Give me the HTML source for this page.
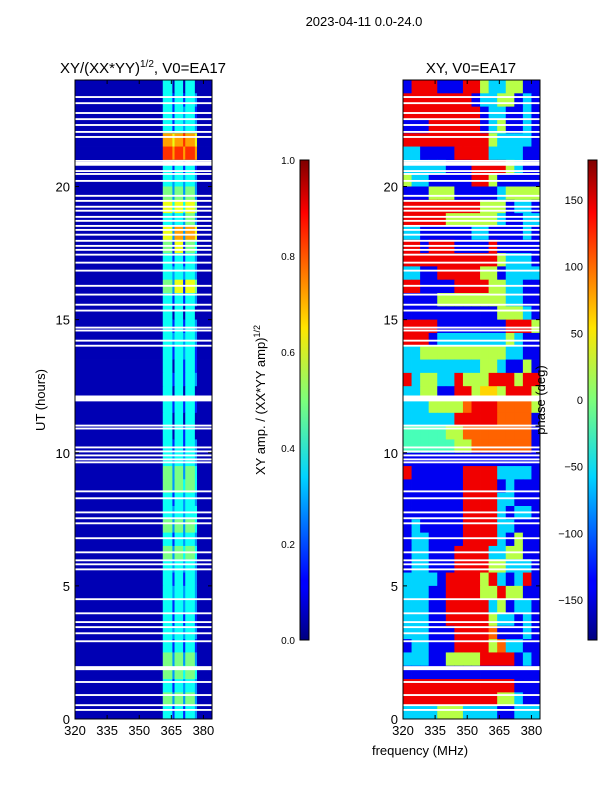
<!DOCTYPE html>
<html><head><meta charset="utf-8">
<style>
body{margin:0;background:#fff;}
svg{display:block;font-family:"Liberation Sans",sans-serif;}
</style></head>
<body>
<svg id="fig" width="600" height="800" viewBox="0 0 600 800">
<defs>
<linearGradient id="jet" x1="0" y1="1" x2="0" y2="0">
<stop offset="0" stop-color="#00007f"/><stop offset="0.11" stop-color="#0000ff"/>
<stop offset="0.125" stop-color="#0000ff"/><stop offset="0.34" stop-color="#00d4ff"/>
<stop offset="0.5" stop-color="#7dff7a"/><stop offset="0.65" stop-color="#ffe500"/>
<stop offset="0.89" stop-color="#ff0000"/><stop offset="1" stop-color="#7f0000"/>
</linearGradient>
</defs>
<text x="364" y="26" font-size="13" text-anchor="middle">2023-04-11 0.0-24.0</text>
<text x="143" y="73" font-size="15" text-anchor="middle">XY/(XX*YY)<tspan font-size="10" dy="-6">1/2</tspan><tspan dy="6">, V0=EA17</tspan></text>
<text x="471" y="73" font-size="15" text-anchor="middle">XY, V0=EA17</text>
<g id="ampPanel"></g>
<g id="phPanel"></g>
<g id="axes"></g>
<rect x="300" y="160" width="9" height="480" fill="url(#jet)" stroke="#000" stroke-width="1"/>
<rect x="588" y="160" width="9" height="480" fill="url(#jet)" stroke="#000" stroke-width="1"/>
<text transform="translate(45,400) rotate(-90)" font-size="13" text-anchor="middle">UT (hours)</text>
<text transform="translate(265,400) rotate(-90)" font-size="13" text-anchor="middle">XY amp. / (XX*YY amp)<tspan font-size="9" dy="-5">1/2</tspan></text>
<text transform="translate(545,400) rotate(-90)" font-size="13" text-anchor="middle">phase (deg)</text>
<text x="420" y="755" font-size="13" text-anchor="middle">frequency (MHz)</text>
</svg>
<script>
const ampEdges=[320,361,365.5,366.5,370.5,371.5,376,377,380.5,384];
const ampRows=["141414111","142424311","142434211","142434311","176787611","187878711","142424211","143434311","153535311","164646511","143435311","163737611","152625411","142424311","143434311","153626511","142424311","141414111","142424311","143434311","142434211","141424211","142424311","141414111","142424211","141414111","141424111","142424311","143434311","153535411","153545411","142434311","143434411","153535411","142434311","153545411","143434311","142424311","143434311","142434311","142424211","143434311","142424211","153535311","153545411","142434311","153535311","142424311"];
const phRows=["1888111885335511","8888888813355131","8888888881331131","1118888881351131","8888888888533331","3311118888333311","3333311188885311","5331111188511111","1115551111135555","8888888885551331","8888855555531133","3311111133111131","8818881111811111","8888888888853331","3311888885513333","8811118888553311","1111555555553311","1111111111155531","8888111111118885","8881333333335311","3355555555553311","3333333335531151","8355338555888588","3355118856658885","3335555788877775","3333338888877771","4444455777777771","4444445577777771","1111111111111111","8111111888833331","1111111888813111","1111111888833111","1111111888831331","1311111888833111","1331111888831511","1331118888335511","1331118888553331","3333188885831381","3331188885585511","3331188888351331","3331188888533131","3331118888711131","1331118888573311","3331155558888131","1111111111111111","8888888888888111","8888888888855311","3333555333311333"];
const flagT=[23.36,23.13,22.76,22.53,22.31,22.05,21.86,20.96,20.85,20.58,20.47,20.21,19.65,19.46,19.24,19.09,18.86,18.71,18.52,18.37,18.19,17.96,17.77,17.62,17.44,17.14,16.84,16.27,15.94,15.56,15.34,14.7,14.59,14.21,14.02,12.04,11.02,10.91,10.2,10.05,9.9,9.75,9.64,8.55,8.29,7.76,7.54,7.35,6.79,6.26,5.96,5.81,5.62,4.5,3.97,3.64,3.45,3.22,2.92,1.91,1.39,0.9,0.52,0.34];
const flagW=[.07,.07,.07,.07,.07,.07,.07,.07,.14,.07,.07,.07,.07,.07,.07,.07,.07,.07,.07,.07,.07,.07,.07,.07,.07,.07,.07,.07,.07,.07,.07,.07,.07,.07,.07,.22,.07,.07,.07,.07,.07,.07,.07,.07,.07,.07,.07,.07,.07,.07,.07,.07,.07,.07,.07,.07,.07,.07,.07,.15,.07,.07,.07,.07];
const xTicks=[320,335,350,365,380];
const yTicks=[0,5,10,15,20];
const ampCbTicks=["0.0","0.2","0.4","0.6","0.8","1.0"];
const phCbTicks=[-150,-100,-50,0,50,100,150];

const NS="http://www.w3.org/2000/svg";
function mk(tag,at,parent){const e=document.createElementNS(NS,tag);for(const k in at)e.setAttribute(k,at[k]);parent.appendChild(e);return e;}
function jet(v){const c=x=>Math.round(255*Math.max(0,Math.min(1,x)));return `rgb(${c(1.5-Math.abs(4*v-3))},${c(1.5-Math.abs(4*v-2))},${c(1.5-Math.abs(4*v-1))})`;}
const T=80,B=719,F0=320,F1=384;
const yS=h=>B-(h/24)*(B-T);
function panel(gid,L,R,edges,rows,off){
  const g=document.getElementById(gid);
  const xS=f=>L+(f-F0)/(F1-F0)*(R-L);
  const n=rows.length;
  rows.forEach((row,i)=>{
    const h1=24-i*24/n,h0=24-(i+1)*24/n;
    for(let j=0;j<row.length;j++){
      const v=(+row[j])/9-off;
      const r=mk('rect',{x:xS(edges[j]),y:yS(h1),width:xS(edges[j+1])-xS(edges[j])+0.4,height:yS(h0)-yS(h1)+0.4,fill:jet(v)},g);
      
      
    }
  });
  flagT.forEach((t,k)=>{
    const r=mk('rect',{x:L,y:yS(t+flagW[k]/2),width:R-L,height:Math.max(1.5,yS(t-flagW[k]/2)-yS(t+flagW[k]/2)),fill:'#fff'},g);
    
    
  });
  const ax=document.getElementById('axes');
  const fr=mk('rect',{x:L,y:T,width:R-L,height:B-T,fill:'none',stroke:'#000','stroke-width':1},ax);
  
  
  xTicks.forEach(f=>{
    const x=xS(f);
    mk('line',{x1:x,y1:B,x2:x,y2:B-4,stroke:'#000'},ax);
    mk('line',{x1:x,y1:T,x2:x,y2:T+4,stroke:'#000'},ax);
    const t=mk('text',{x:x,y:B+16,'font-size':13,'text-anchor':'middle'},ax);t.textContent=f;
    
    
  });
  yTicks.forEach(h=>{
    const y=yS(h);
    mk('line',{x1:L,y1:y,x2:L+4,y2:y,stroke:'#000'},ax);
    mk('line',{x1:R,y1:y,x2:R-4,y2:y,stroke:'#000'},ax);
    const t=mk('text',{x:L-5,y:y+5,'font-size':13,'text-anchor':'end'},ax);t.textContent=h;
    
    
  });
}
const phEdges=[];for(let k=0;k<=16;k++)phEdges.push(320+k*4);
panel('ampPanel',75,212,ampEdges,ampRows,0.06);
panel('phPanel',403,540,phEdges,phRows,0);
const ax=document.getElementById('axes');
ampCbTicks.forEach((s,i)=>{
  const y=640-i*96;
  mk('line',{x1:309,y1:y,x2:305,y2:y,stroke:'#000'},ax);
  const t=mk('text',{x:295,y:y+4,'font-size':10,'text-anchor':'end'},ax);t.textContent=s;
  
  
});
phCbTicks.forEach(p=>{
  const y=400-p*(480/360);
  mk('line',{x1:597,y1:y,x2:593,y2:y,stroke:'#000'},ax);
  const t=mk('text',{x:583,y:y+4,'font-size':11,'text-anchor':'end'},ax);t.textContent=p<0?'\u2212'+(-p):p;
  
  
});
</script>
</body></html>
